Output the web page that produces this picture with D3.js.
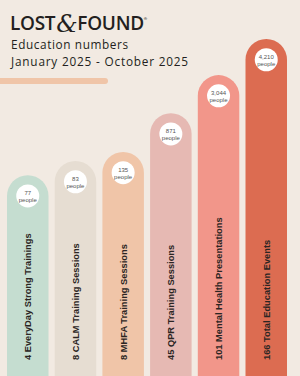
<!DOCTYPE html>
<meta charset="utf-8">
<script src="https://d3js.org/d3.v7.min.js"></script>
<style>
  body { margin: 0; background: #f2eae2; }
</style>
<div id="chart_area"></div>
<script>

    let labels = ["4 EveryDay Strong Trainings", "8 CALM Training Sessions", "8 MHFA Training Sessions",
                  "45 QPR Training Sessions", "101 Mental Health Presentations", "166 Total Education Events"];
    let people = [77, 83, 135, 871, 3044, 4210];
    // bar levels as drawn (the bars are not to scale), 0-100
    let barLevel = [59.6, 63.8, 66.5, 78, 89.3, 100];
    let colors = ["#c5ddd0", "#e6ddd2", "#f0c5a8", "#e6b9b3", "#f2968a", "#dc6c51"];

    let width = 300;
    let height = 376;

    let svg = d3.select("#chart_area")
                .append("svg")
                    .attr("width", width)
                    .attr("height", height);

    svg.append("rect")
        .attr("width", width)
        .attr("height", height)
        .attr("fill", "#f2eae2");

    // logo
    let logo = svg.append("text")
        .attr("x", 10)
        .attr("y", 30)
        .style("font-family", "'Open Sans', sans-serif")
        .style("font-size", "19px")
        .style("font-weight", 600)
        .style("letter-spacing", "-0.3px")
        .attr("fill", "#231f20");
    logo.append("tspan").text("LOST");
    logo.append("tspan")
        .attr("dx", 1)
        .attr("dy", 2)
        .style("font-family", "'DejaVu Serif', serif")
        .style("font-style", "italic")
        .style("font-weight", "normal")
        .style("font-size", "24px")
        .text("&");
    logo.append("tspan").attr("dy", -2).text("FOUND");
    logo.append("tspan")
        .attr("dy", -10)
        .style("font-size", "4px")
        .text("®");

    svg.append("text")
        .attr("x", 11)
        .attr("y", 49)
        .style("font-family", "'Open Sans', sans-serif")
        .style("font-size", "11.8px")
        .style("letter-spacing", "0.6px")
        .attr("fill", "#231f20")
        .text("Education numbers");

    svg.append("text")
        .attr("x", 11)
        .attr("y", 66)
        .style("font-family", "'Open Sans', sans-serif")
        .style("font-size", "11.8px")
        .style("letter-spacing", "0.8px")
        .attr("fill", "#231f20")
        .text("January 2025 - October 2025");

    // peach stripe under the title
    svg.append("rect")
        .attr("x", -10)
        .attr("y", 78)
        .attr("width", 118)
        .attr("height", 6)
        .attr("rx", 3)
        .attr("fill", "#f0c5a8");

    // scales
    let x = d3.scaleBand()
        .domain(labels)
        .range([7, 287])
        .paddingInner(0.13)
        .paddingOuter(0);

    let y = d3.scaleLinear()
        .domain([0, 100])
        .range([height, 39]);

    let bw = x.bandwidth();

    let bars = svg.selectAll("barGroups")
        .data(labels)
        .enter()
        .append("g")
            .attr("transform", d => "translate(" + x(d) + ",0)");

    // pill shaped bars running off the bottom
    bars.append("rect")
        .attr("y", (d, i) => y(barLevel[i]))
        .attr("width", bw)
        .attr("height", (d, i) => height - y(barLevel[i]) + bw)
        .attr("rx", bw / 2)
        .attr("fill", (d, i) => colors[i]);

    // white bubbles with people counts
    bars.append("circle")
        .attr("cx", bw / 2)
        .attr("cy", (d, i) => y(barLevel[i]) + bw / 2)
        .attr("r", 11.5)
        .attr("fill", "white");

    bars.append("text")
        .attr("x", bw / 2)
        .attr("y", (d, i) => y(barLevel[i]) + bw / 2 - 1)
        .attr("text-anchor", "middle")
        .style("font-family", "'Liberation Sans', Arial, sans-serif")
        .style("font-size", "6px")
        .attr("fill", "#555")
        .text((d, i) => d3.format(",")(people[i]));

    bars.append("text")
        .attr("x", bw / 2)
        .attr("y", (d, i) => y(barLevel[i]) + bw / 2 + 6)
        .attr("text-anchor", "middle")
        .style("font-family", "'Liberation Sans', Arial, sans-serif")
        .style("font-size", "6px")
        .attr("fill", "#555")
        .text("people");

    // rotated labels
    bars.append("text")
        .attr("transform", "translate(" + (bw / 2 + 3.5) + ",360) rotate(-90)")
        .style("font-family", "'Liberation Sans', Arial, sans-serif")
        .style("font-size", "9.3px")
        .style("font-weight", "bold")
        .attr("fill", "#2b2523")
        .text(d => d);

</script>
</html>
